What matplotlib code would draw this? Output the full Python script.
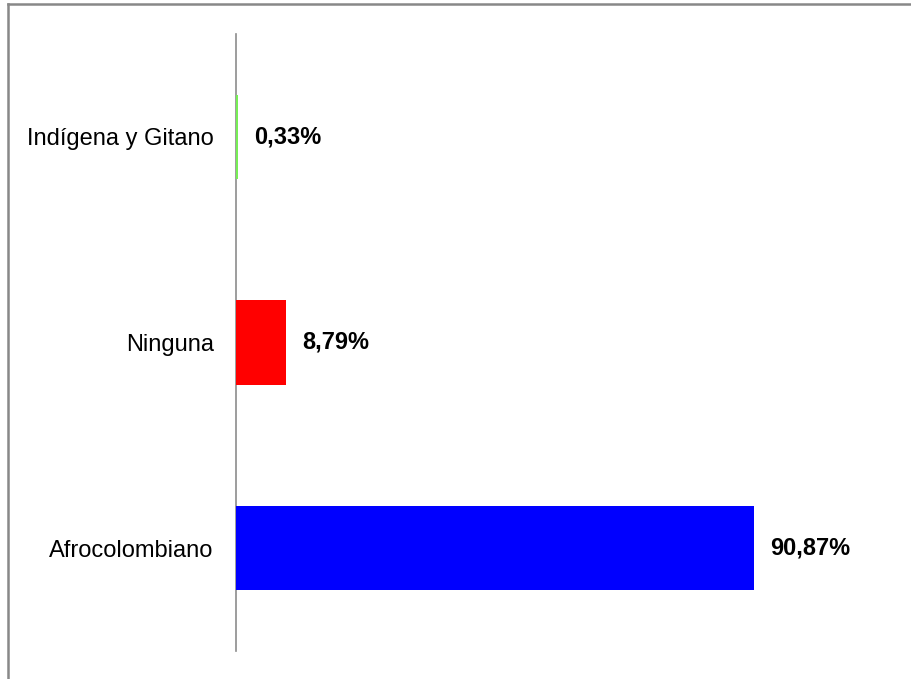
import matplotlib.pyplot as plt
from matplotlib.lines import Line2D

plt.rcParams['font.family'] = ['Liberation Sans', 'DejaVu Sans']

# data, bottom to top
categories = ['Afrocolombiano', 'Ninguna', 'Indígena y Gitano']
values = [90.87, 8.79, 0.33]
labels = ['90,87%', '8,79%', '0,33%']
colors = ['#0000ff', '#ff0000', '#77ee55']

fig = plt.figure(figsize=(9.12, 6.79), dpi=100)
# axes: left edge at the category axis line, spans y 34..651 px
ax = fig.add_axes([236 / 912, 1 - 651 / 679, (880 - 236) / 912, (651 - 34) / 679])

ax.barh(range(len(values)), values, height=0.41, color=colors, zorder=3)
for i, (v, lab) in enumerate(zip(values, labels)):
    ax.annotate(lab, (v, i), xytext=(11.5, 0), textcoords='offset points',
                ha='left', va='center', fontsize=17, fontweight='bold')

ax.set_yticks(range(len(categories)), categories, fontsize=17)
ax.tick_params(axis='y', length=0, pad=16)
ax.set_ylim(-0.5, 2.5)
ax.set_xlim(0, (880 - 236) / 5.70)
ax.set_xticks([])
for s in ['top', 'right', 'bottom']:
    ax.spines[s].set_visible(False)
ax.spines['left'].set_color('#8c8c8c')
ax.spines['left'].set_linewidth(1.2)

# chart-area frame (left and top edges visible)
fig.add_artist(Line2D([8 / 912, 8 / 912], [0, 1 - 4 / 679], transform=fig.transFigure,
                      color='#888888', lw=1.8))
fig.add_artist(Line2D([8 / 912, 1], [1 - 4 / 679, 1 - 4 / 679], transform=fig.transFigure,
                      color='#888888', lw=1.8))

fig.savefig('out.png', dpi=100)
